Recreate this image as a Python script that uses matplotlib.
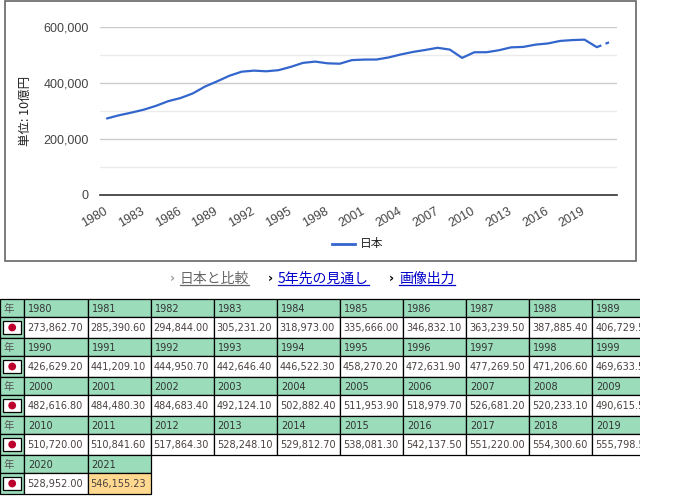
import matplotlib
matplotlib.use("Agg")
import matplotlib.pyplot as plt
from matplotlib.patches import Rectangle, Circle
from matplotlib.ticker import FuncFormatter, MultipleLocator

years = list(range(1980, 2022))
gdp = [273862.70, 285390.60, 294844.00, 305231.20, 318973.00, 335666.00,
       346832.10, 363239.50, 387885.40, 406729.50, 426629.20, 441209.10,
       444950.70, 442646.40, 446522.30, 458270.20, 472631.90, 477269.50,
       471206.60, 469633.50, 482616.80, 484480.30, 484683.40, 492124.10,
       502882.40, 511953.90, 518979.70, 526681.20, 520233.10, 490615.50,
       510720.00, 510841.60, 517864.30, 528248.10, 529812.70, 538081.30,
       542137.50, 551220.00, 554300.60, 555798.50, 528952.00, 546155.23]
estimate_from = 2020
country = "日本"
y_label = "単位: 10億円"
links = ["日本と比較", "5年先の見通し", "画像出力"]
link_colors = ["#666666", "#0000cc", "#0000cc"]
year_head = "年"

W, H = 695, 496
plt.rcParams['font.family'] = ['Liberation Sans', 'Noto Sans CJK JP', 'DejaVu Sans']
fig = plt.figure(figsize=(W / 100, H / 100), dpi=100)

# background layer in pixel coords
bg = fig.add_axes([0, 0, 1, 1])
bg.set_xlim(0, W)
bg.set_ylim(H, 0)
bg.axis('off')
bg.add_patch(Rectangle((4.5, 0.5), 631, 260, fill=False, ec='#666666', lw=1.2))


def frac(x0, y0, x1, y1):
    return [x0 / W, 1 - y1 / H, (x1 - x0) / W, (y1 - y0) / H]


ax = fig.add_axes(frac(100, 27.3, 617, 195))
split = years.index(estimate_from)
ax.plot(years[:split + 1], gdp[:split + 1], color='#3366cc', lw=1.6, solid_capstyle='round')
ax.plot(years[split:], gdp[split:], color='#3366cc', lw=1.6, dashes=(2.2, 2))
ax.set_xlim(1979.43, 2021.65)
ax.set_ylim(0, 600000)
ax.yaxis.set_major_locator(MultipleLocator(200000))
ax.yaxis.set_minor_locator(MultipleLocator(100000))
ax.yaxis.set_major_formatter(FuncFormatter(lambda v, p: f"{int(v):,}"))
ax.set_xticks(years[::3])
ax.grid(True, which='major', axis='y', color='#cccccc', lw=1)
ax.grid(True, which='minor', axis='y', color='#ebebeb', lw=1)
for s in ['top', 'right', 'left']:
    ax.spines[s].set_visible(False)
ax.spines['bottom'].set_color('#333333')
ax.spines['bottom'].set_linewidth(1.2)
ax.spines['bottom'].set_zorder(3)
ax.tick_params(axis='y', which='both', length=0, pad=8, labelsize=9, labelcolor='#444444')
ax.tick_params(axis='x', length=0, pad=11, labelsize=9, labelcolor='#444444')
for lab in ax.get_xticklabels():
    lab.set_rotation(30)
    lab.set_ha('right')
    lab.set_va('center')
    lab.set_rotation_mode('anchor')
ax.set_ylabel(y_label, fontsize=9, color='#222222', labelpad=4,
              family=['Noto Sans CJK JP', 'DejaVu Sans'])
ax.yaxis.set_label_coords(-68 / 517, 0.5)
ax.set_facecolor('none')

# legend
bg.plot([332, 355], [243.5, 243.5], color='#3366cc', lw=2)
bg.text(360, 243.5, country, fontsize=8.5, va='center', color='#222222',
        family=['Noto Sans CJK JP'])

# link row
link_x = [180, 278, 399]
texts = []
for lx, name, col in zip(link_x, links, link_colors):
    bg.text(lx - 8, 278.5, "›", fontsize=9, fontweight='bold', va='center', ha='center',
            color='#999999' if col == '#666666' else '#000000', family=['DejaVu Sans'])
    t = bg.text(lx, 278.5, name, fontsize=10, va='center', color=col,
                family=['Noto Sans CJK JP', 'DejaVu Sans'])
    texts.append((t, col))
fig.canvas.draw()
for t, col in texts:
    bb = t.get_window_extent()
    bg.plot([bb.x0, bb.x1], [H - bb.y0 - 1, H - bb.y0 - 1], color=col, lw=0.9)

# table
tab = fig.add_axes([0, 0, 640 / W, 1])
tab.set_xlim(0, 640)
tab.set_ylim(H, 0)
tab.axis('off')
green = '#9bdcbb'
first_w = 24.4
col_w = 63.1
head_h = 18
data_h = 21
top = 299.3
per_row = 10
for g in range(0, len(years), per_row):
    gi = g // per_row
    y0 = top + gi * (head_h + data_h)
    tab.add_patch(Rectangle((0, y0), first_w, head_h, fc=green, ec='black', lw=0.9))
    tab.add_patch(Rectangle((0, y0 + head_h), first_w, data_h, fc=green, ec='black', lw=0.9))
    tab.text(3, y0 + head_h / 2 + 0.5, year_head, fontsize=7.5, va='center', color='#555555',
             family=['Noto Sans CJK JP'])
    tab.add_patch(Rectangle((3.3, y0 + head_h + 3.7), 17.7, 13, fc='white', ec='black', lw=0.9))
    tab.add_patch(Circle((12.2, y0 + head_h + 10.2), 3.9, fc='#bc002d', ec='none'))
    for k, (yr, v) in enumerate(zip(years[g:g + per_row], gdp[g:g + per_row])):
        x0 = first_w + k * col_w
        tab.add_patch(Rectangle((x0, y0), col_w, head_h, fc=green, ec='black', lw=0.9))
        fc = '#ffd98f' if yr == years[-1] else 'white'
        tab.add_patch(Rectangle((x0, y0 + head_h), col_w, data_h, fc=fc, ec='black', lw=0.9))
        tab.text(x0 + 4, y0 + head_h / 2 + 0.5, str(yr), fontsize=7, va='center',
                 color='#333333', family=['DejaVu Sans'], clip_on=True)
        tab.text(x0 + 3, y0 + head_h + data_h / 2 + 0.5, f"{v:,.2f}", fontsize=7, va='center',
                 color='#4a4040', family=['DejaVu Sans'], clip_on=True)

fig.savefig("out.png", dpi=100, facecolor='white')
